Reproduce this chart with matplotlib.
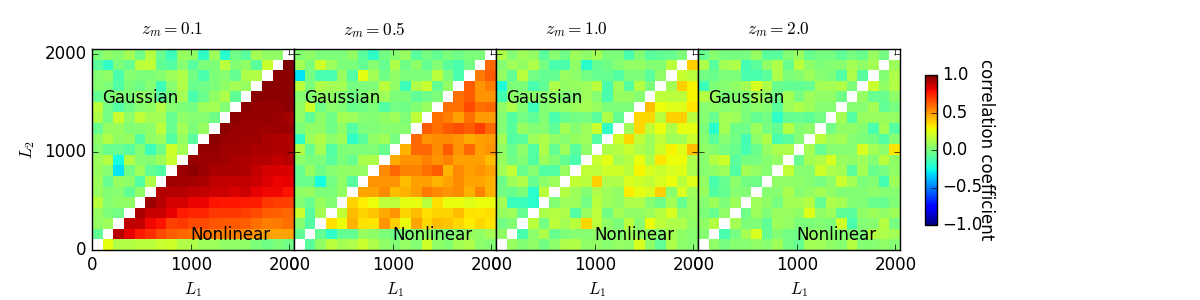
import numpy as np
import matplotlib
matplotlib.use("Agg")
import matplotlib.pyplot as plt

plt.style.use("classic")

n = float("nan")

# correlation per L1/L2 bin, rows listed from the top (high L2) down
corr_01 = [
    [.00, .05, .03, .10, -.03, .14, -.05, -.15, .07, .05, -.18, .08, -.20, -.03, -.08, .10, .05, .05, n],
    [-.08, -.18, .00, -.05, .15, .17, -.07, -.10, .03, -.08, .00, .00, .15, .02, .05, -.08, .18, n, 1.0],
    [.03, .05, -.12, .03, .00, .00, .03, .08, .12, -.02, -.12, .00, .03, -.06, .12, .13, n, .97, .97],
    [.03, .00, -.10, .00, -.03, .03, -.15, .03, .12, -.04, -.03, .00, .05, .10, .07, n, .98, .97, .97],
    [-.06, .00, .03, .00, .05, .03, -.08, .00, .10, -.12, -.04, .05, .12, -.07, n, .98, .97, .97, .97],
    [.15, -.02, -.10, -.03, .03, .05, .13, .03, .00, -.01, .08, .10, .02, n, .97, .96, .96, .96, .97],
    [.12, -.02, .18, .04, .17, .10, .10, -.05, .04, .03, .03, -.03, n, .97, .96, .96, .96, .95, .93],
    [-.05, .07, .07, .02, .03, .04, .15, -.05, .10, .00, .07, n, .97, .96, .95, .95, .94, .95, .95],
    [.05, .13, .05, .07, -.10, .05, .08, -.10, .06, -.08, n, .97, .96, .95, .94, .94, .92, .91, .91],
    [.03, -.04, -.05, -.08, .02, -.15, -.03, .20, .10, n, .96, .96, .94, .94, .93, .92, .92, .91, .91],
    [.08, .14, -.25, .14, .03, .02, .08, .18, n, .96, .95, .95, .94, .92, .92, .90, .90, .88, .90],
    [.07, .03, -.30, -.02, .08, -.06, -.10, n, .95, .97, .95, .92, .92, .92, .91, .88, .85, .84, .84],
    [.08, -.05, .07, .04, -.10, .12, n, .94, .93, .93, .92, .89, .88, .88, .88, .86, .83, .81, .82],
    [.07, .02, .03, -.07, .05, n, .90, .90, .90, .89, .88, .86, .86, .84, .86, .82, .80, .80, .78],
    [.15, .03, .05, .05, n, .95, .90, .85, .85, .81, .81, .78, .77, .77, .76, .75, .70, .68, .68],
    [.07, .00, -.02, n, .92, .87, .87, .82, .76, .74, .74, .70, .70, .70, .68, .66, .62, .61, .60],
    [.06, .08, n, .89, .88, .80, .78, .68, .70, .66, .66, .64, .63, .63, .62, .58, .55, .56, .58],
    [-.06, n, .90, .82, .76, .72, .66, .62, .60, .58, .58, .56, .55, .54, .52, .50, .48, .47, .47],
    [n, .25, .13, .13, .15, .15, .18, .20, .13, .12, .08, .08, .05, .05, .05, .00, -.03, .00, -.03],
]

corr_05 = [
    [.02, .05, .00, .00, .00, .05, -.08, -.18, -.02, .03, .07, -.08, -.01, -.06, .00, -.03, .00, .00, n],
    [.10, .00, .20, .08, .00, .00, -.06, .03, -.05, .12, -.03, .04, -.06, .02, -.08, -.12, -.02, n, .60],
    [-.30, -.01, -.12, -.13, .07, -.10, .25, .10, -.03, .05, .00, .00, .00, .15, .00, -.12, n, .56, .62],
    [.15, .00, .12, .10, .10, -.01, .00, .01, .15, .05, -.15, .12, .18, -.06, .06, n, .62, .50, .55],
    [.03, .02, .06, .05, .02, -.03, .00, .04, .08, .00, .00, -.07, -.03, .00, n, .58, .62, .50, .50],
    [.05, .20, -.03, .04, .01, -.04, -.03, .00, -.10, -.02, -.03, .02, .07, n, .58, .58, .66, .58, .60],
    [.05, -.07, .04, -.03, .10, .08, .03, .02, .05, .08, .01, .16, n, .58, .55, .48, .58, .49, .49],
    [.00, .05, .05, -.03, .04, -.10, .00, .01, .03, .03, .03, n, .62, .58, .63, .65, .62, .68, .60],
    [-.18, .08, .13, .04, .08, -.18, -.08, .05, .09, -.01, n, .60, .50, .52, .52, .50, .46, .48, .49],
    [.13, -.05, .10, -.10, .00, .01, .00, .01, -.04, n, .44, .60, .60, .52, .62, .50, .60, .48, .50],
    [.04, .00, .00, -.08, .00, -.05, .11, .12, n, .46, .50, .50, .54, .50, .54, .48, .48, .48, .42],
    [-.05, .07, -.03, .03, .05, .05, .06, n, .52, .60, .54, .54, .58, .62, .43, .53, .48, .50, .47],
    [-.04, -.04, -.25, -.02, .05, -.08, n, .50, .50, .50, .42, .48, .48, .43, .47, .52, .47, .47, .44],
    [.05, .07, .00, .00, .06, n, .47, .47, .52, .42, .44, .48, .56, .53, .50, .52, .44, .54, .44],
    [.02, -.05, .07, .02, n, .37, .32, .28, .16, .16, .25, .26, .15, .35, .26, .26, .24, .27, .27],
    [.18, -.09, .10, n, .17, .42, .37, .40, .46, .50, .37, .42, .35, .37, .37, .42, .34, .33, .35],
    [.03, -.10, n, .34, .28, .44, .34, .33, .50, .38, .27, .47, .36, .42, .40, .36, .32, .36, .33],
    [-.07, n, -.06, -.18, -.06, -.06, .07, .04, .00, -.03, .00, .03, .05, .02, .00, .03, .07, .05, .10],
    [n, -.08, .05, .15, .10, .12, .18, .12, .05, .02, .06, .02, .20, .05, .02, .10, .12, .04, .02],
]

corr_10 = [
    [.12, .02, .08, .06, -.08, .03, -.03, .08, .04, .10, .00, .00, -.12, .02, -.08, -.07, -.05, .00, n],
    [.02, .09, .06, .12, -.01, -.12, -.12, .05, -.20, -.06, -.03, .03, .06, .06, .02, .02, .15, n, .38],
    [.06, -.06, .15, -.02, -.06, -.06, .07, .04, -.02, -.05, -.05, -.10, .00, .00, -.08, .05, n, .18, .15],
    [-.22, .00, .00, -.12, -.07, .12, .05, .07, .08, .15, -.12, .08, -.10, .14, .00, n, .10, .38, .30],
    [-.14, .04, .03, .04, .03, .04, .01, .02, .08, .03, -.12, .07, .07, .03, n, .16, .15, .15, .30],
    [.05, .12, .02, -.15, .02, .04, .06, .08, .10, .07, .00, .00, .00, n, .42, .28, .24, .24, .33],
    [.02, -.10, -.02, -.07, .02, -.12, -.05, -.02, -.01, -.08, .12, -.06, n, .36, .36, .15, .38, .38, .15],
    [.02, -.08, .07, .02, .03, -.07, .10, .03, .08, .18, -.18, n, .09, .36, .17, .27, .12, .25, .25],
    [.10, -.10, -.08, .08, .12, .05, .03, .07, .08, -.10, n, .20, .36, .17, .08, .17, .08, .10, .18],
    [.05, -.04, .04, -.10, .12, -.06, .08, -.08, .05, n, .12, .14, .18, .12, .08, .20, .30, .24, .42],
    [.07, -.03, .02, -.10, .08, .02, -.06, -.11, n, .18, .25, .10, .14, .26, .12, .33, .28, .28, .12],
    [.10, .17, -.04, .03, -.10, -.10, .07, n, .17, .16, .20, .20, .15, .30, .22, .18, .22, .24, .11],
    [-.03, .08, .12, -.05, .04, .08, n, .17, .15, .38, .12, .12, .23, .20, .17, .22, .27, .15, .24],
    [-.02, -.04, .00, -.20, .15, n, .14, .08, .02, .12, .08, .05, .32, .25, .22, .38, .03, .22, .08],
    [.10, -.16, -.16, -.20, n, .02, .08, .08, -.02, .15, .08, .05, .12, .12, .03, -.03, .10, -.05, .07],
    [.07, .08, -.05, n, .12, .14, .12, -.10, .07, .16, -.03, .10, .05, .05, .08, .14, .22, .05, .07],
    [-.02, .02, n, .15, -.02, .15, .10, .15, .36, .16, .05, .00, .15, .03, .27, .16, .12, .12, .05],
    [.05, n, -.12, .04, .12, -.05, .00, .03, .03, .04, .04, .02, .08, .06, .05, .03, .10, .05, .03],
    [n, .07, .02, .05, -.02, .04, .12, .13, .05, .06, .03, .06, .05, .22, .05, -.07, .12, .04, .03],
]

corr_20 = [
    [-.05, .03, -.01, -.01, -.01, .07, -.08, -.08, .02, .07, -.05, -.01, -.01, -.07, -.01, -.04, .07, -.02, n],
    [.12, -.08, .10, .12, -.14, -.08, .05, .12, -.05, .15, .04, .00, .03, .03, .10, .05, .10, n, .08],
    [-.02, -.04, .00, .00, -.12, -.12, -.08, .12, .00, .02, .08, .03, .00, -.10, .12, -.08, n, .02, .12],
    [-.15, .00, .03, .05, .10, .22, .12, -.04, -.06, -.06, -.05, .10, .10, .12, .00, n, .18, .05, .13],
    [.14, .08, .00, .02, .02, .10, .05, -.03, .10, -.01, .08, .05, .05, -.03, n, .06, -.05, -.05, .04],
    [.03, .05, .03, .05, .00, .04, .03, -.08, .08, .12, .08, .03, .03, n, .03, .03, .10, -.07, -.01],
    [.03, -.05, .10, .08, .00, -.06, -.02, -.18, -.06, -.05, -.07, -.02, n, .10, -.10, .07, .07, .07, .06],
    [.00, -.20, .10, -.03, -.03, .08, -.01, -.06, .14, .02, .04, n, -.02, .05, .05, .02, -.12, .10, -.09],
    [.03, -.08, .03, -.02, -.14, .04, .12, -.12, -.08, .03, n, .15, .08, .10, .03, .00, -.02, -.10, .03],
    [.05, .03, -.01, -.04, -.13, -.04, .06, .11, .12, n, .10, -.05, .03, .03, .03, .22, .10, .04, .33],
    [.03, .14, .20, -.08, -.01, -.01, .03, .06, n, -.05, .10, .12, .22, .07, .05, .08, .02, .15, .05],
    [.03, .05, .08, -.10, .10, .06, .03, n, .17, .03, .03, .20, .12, .10, -.08, .10, -.04, -.01, .05],
    [.06, -.12, -.05, .04, -.02, -.03, n, .05, .05, .04, .03, -.01, .04, .18, .10, .00, .02, -.14, .08],
    [.07, -.10, -.06, .03, .02, n, .03, .03, .11, .03, .05, .10, .05, .01, .02, .02, .04, .03, .03],
    [.03, .08, .00, .08, n, .08, .05, -.01, .10, .10, .14, -.06, .12, .10, .02, .01, -.04, -.05, .01],
    [.00, -.05, .05, n, -.03, .08, .01, .07, .07, .05, .24, .05, .08, -.07, -.08, .05, .08, .05, .08],
    [.05, .14, n, .10, .00, .01, -.07, .08, .06, .00, .00, .02, .00, .20, -.12, .02, .03, .14, -.01],
    [.03, n, -.12, -.01, .10, .22, -.06, .02, -.02, -.02, .06, .04, .03, .03, .03, .00, .14, .12, .10],
    [n, .05, -.01, .03, .03, .05, .03, .09, -.02, -.06, .10, .09, .05, .03, .14, .02, .03, .05, .03],
]

panels = [corr_01, corr_05, corr_10, corr_20]
titles = ["$z_m=0.1$", "$z_m=0.5$", "$z_m=1.0$", "$z_m=2.0$"]
lmax = 2046
ticks = [0, 1000, 2000]
cbar_ticks = [-1.0, -0.5, 0.0, 0.5, 1.0]


def pixelAxes(fig, left, top, right, bottom):
    # axes box given in figure pixels, y measured from the top
    return fig.add_axes([left / 1200, 1 - bottom / 300, (right - left) / 1200, (bottom - top) / 300])


fig = plt.figure(figsize=(12, 3), dpi=100, facecolor="white")
edges = [92, 294, 496, 698, 900]

for i in range(4):
    ax = pixelAxes(fig, edges[i], 49, edges[i + 1], 250)
    im = ax.imshow(np.array(panels[i]), cmap="jet", vmin=-1, vmax=1, interpolation="nearest",
                   extent=[0, lmax, 0, lmax], aspect="auto")
    ax.set_xlim(0, lmax)
    ax.set_ylim(0, lmax)
    ax.set_xticks(ticks)
    ax.set_yticks(ticks)
    if i > 0:
        ax.set_yticklabels([])
    ax.set_xlabel("$L_1$")
    ax.text(810, 2240, titles[i], ha="center", va="center", fontsize=12.5)
    ax.text(106, 1550, "Gaussian", va="center", fontsize=12)
    ax.text(1000, 150, "Nonlinear", va="center", fontsize=12)
    if i == 0:
        ax.set_ylabel("$L_2$")

cax = pixelAxes(fig, 924.5, 75, 936.5, 225)
cbar = fig.colorbar(im, cax=cax, ticks=cbar_ticks)
cbar.set_label("correlation coefficient", rotation=270, fontsize=12)
cax.yaxis.set_label_coords(5.85, 0.5)

fig.savefig("out.png", dpi=100, facecolor="white")
